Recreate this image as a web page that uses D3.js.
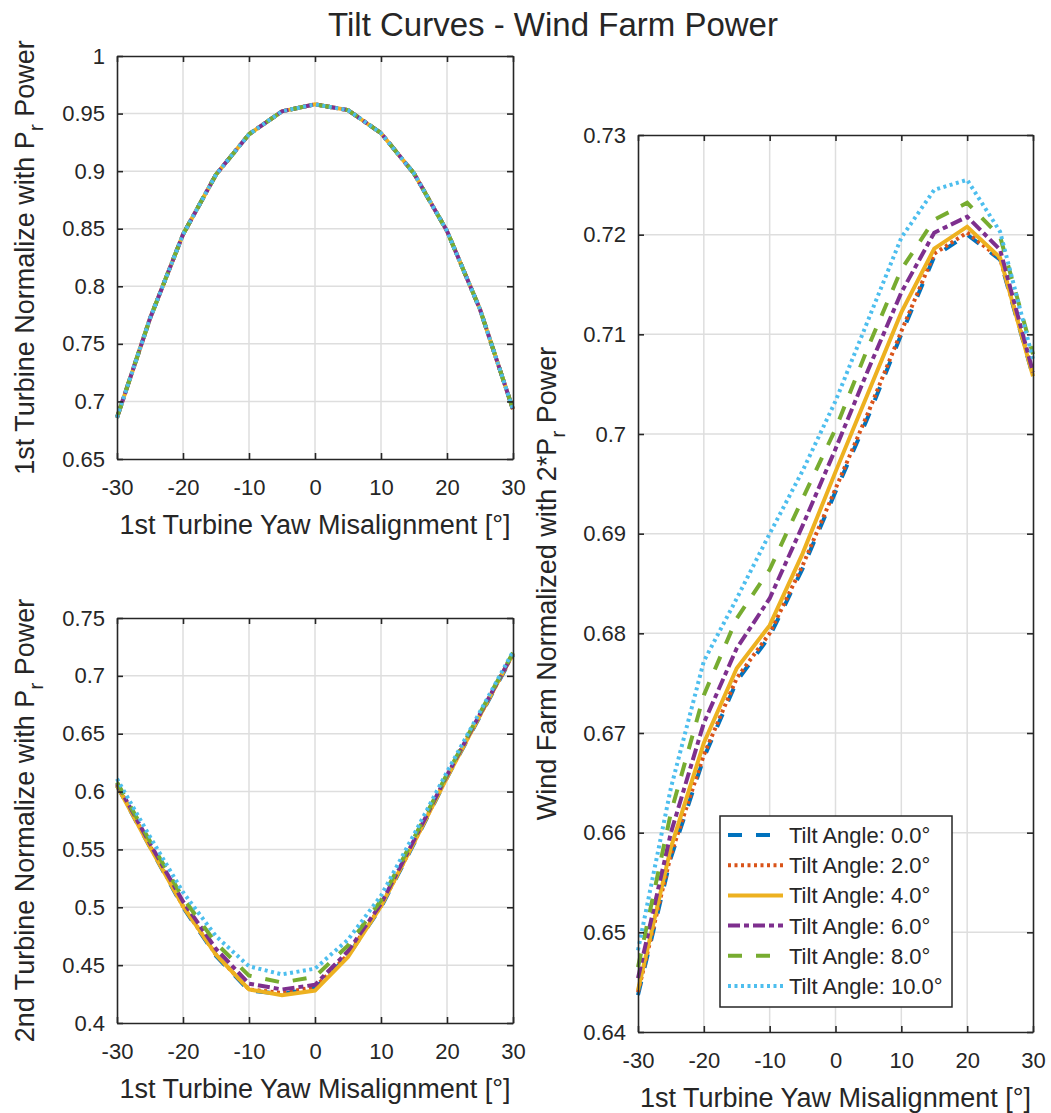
<!DOCTYPE html>
<html>
<head>
<meta charset="utf-8">
<script src="https://cdn.jsdelivr.net/npm/d3@7"></script>
<style>
  body { margin: 0; background: #fff; }
  text { font-family: "Liberation Sans", Arial, Helvetica, sans-serif; fill: #262626; }
</style>
</head>
<body>
<svg id="fig" width="1051" height="1113"></svg>
<script>
// yaw misalignment of the 1st turbine (deg)
const yaw = [-30, -25, -20, -15, -10, -5, 0, 5, 10, 15, 20, 25, 30];
const xTicks = [-30, -20, -10, 0, 10, 20, 30];

const tiltNames = ["Tilt Angle: 0.0°", "Tilt Angle: 2.0°", "Tilt Angle: 4.0°",
                   "Tilt Angle: 6.0°", "Tilt Angle: 8.0°", "Tilt Angle: 10.0°"];

// 1st turbine power -- the six tilt curves lie on top of each other
const turbine1 = [0.686, 0.772, 0.845, 0.897, 0.932, 0.952, 0.958, 0.953, 0.933, 0.898, 0.848, 0.780, 0.693];

// 2nd turbine power, one per tilt angle
const turbine2Tilt0  = [0.605, 0.552, 0.500, 0.458, 0.428, 0.425, 0.430, 0.458, 0.500, 0.555, 0.612, 0.665, 0.718];
const turbine2Tilt2  = [0.606, 0.553, 0.501, 0.459, 0.429, 0.426, 0.431, 0.459, 0.501, 0.556, 0.613, 0.666, 0.719];
const turbine2Tilt4  = [0.605, 0.552, 0.501, 0.459, 0.429, 0.424, 0.428, 0.457, 0.501, 0.556, 0.612, 0.666, 0.719];
const turbine2Tilt6  = [0.607, 0.555, 0.505, 0.464, 0.434, 0.429, 0.433, 0.462, 0.503, 0.558, 0.614, 0.667, 0.719];
const turbine2Tilt8  = [0.608, 0.557, 0.508, 0.469, 0.441, 0.435, 0.440, 0.467, 0.506, 0.560, 0.615, 0.668, 0.720];
const turbine2Tilt10 = [0.611, 0.561, 0.513, 0.475, 0.449, 0.442, 0.447, 0.472, 0.510, 0.563, 0.617, 0.669, 0.721];

// wind farm power, one per tilt angle
const farmTilt0  = [0.6437, 0.6575, 0.6675, 0.6752, 0.6797, 0.6865, 0.6942, 0.7018, 0.7100, 0.7178, 0.7200, 0.7175, 0.7058];
const farmTilt2  = [0.6440, 0.6578, 0.6678, 0.6755, 0.6800, 0.6868, 0.6945, 0.7022, 0.7103, 0.7181, 0.7202, 0.7176, 0.7060];
const farmTilt4  = [0.6442, 0.6585, 0.6690, 0.6765, 0.6808, 0.6880, 0.6962, 0.7042, 0.7122, 0.7186, 0.7208, 0.7177, 0.7058];
const farmTilt6  = [0.6454, 0.6600, 0.6710, 0.6785, 0.6835, 0.6908, 0.6985, 0.7065, 0.7142, 0.7202, 0.7218, 0.7185, 0.7062];
const farmTilt8  = [0.6465, 0.6620, 0.6738, 0.6815, 0.6864, 0.6935, 0.7005, 0.7088, 0.7165, 0.7215, 0.7232, 0.7198, 0.7080];
const farmTilt10 = [0.6482, 0.6645, 0.6772, 0.6835, 0.6900, 0.6963, 0.7033, 0.7115, 0.7197, 0.7245, 0.7255, 0.7203, 0.7075];

const yTicks1 = [0.65, 0.7, 0.75, 0.8, 0.85, 0.9, 0.95, 1];
const yTicks2 = [0.4, 0.45, 0.5, 0.55, 0.6, 0.65, 0.7, 0.75];
const yTicks3 = [0.64, 0.65, 0.66, 0.67, 0.68, 0.69, 0.7, 0.71, 0.72, 0.73];

// matlab default line colours and styles
const colors = ["#0072BD", "#D95319", "#EDB120", "#7E2F8E", "#77AC30", "#4DBEEE"];
const dashes = ["14,14", "3,3.5", null, "12,4,5,4", "14,14", "3,3.5"];

const svg = d3.select("#fig");
const FONT = "'Liberation Sans', Arial, Helvetica, sans-serif";
const INK = "#262626";

svg.append("text")
    .attr("x", 553).attr("y", 36)
    .attr("text-anchor", "middle")
    .attr("font-size", 33)
    .text("Tilt Curves - Wind Farm Power");

function drawPanel(box, yDomain, yTicks, series, yLabel, yLabelX) {
    const g = svg.append("g");
    const x = d3.scaleLinear().domain([-30, 30]).range([box.left, box.right]);
    const y = d3.scaleLinear().domain(yDomain).range([box.bottom, box.top]);
    const fmt = d => String(+d.toFixed(2));

    // grid
    g.selectAll("line.vgrid").data(xTicks.slice(1, -1)).join("line")
        .attr("x1", d => x(d)).attr("x2", d => x(d))
        .attr("y1", box.top).attr("y2", box.bottom)
        .attr("stroke", "#dedede").attr("stroke-width", 1.5);
    g.selectAll("line.hgrid").data(yTicks.slice(1, -1)).join("line")
        .attr("y1", d => y(d)).attr("y2", d => y(d))
        .attr("x1", box.left).attr("x2", box.right)
        .attr("stroke", "#dedede").attr("stroke-width", 1.5);

    // curves
    const line = d3.line().x(d => x(d[0])).y(d => y(d[1]));
    series.forEach((vals, i) => {
        g.append("path")
            .datum(d3.zip(yaw, vals))
            .attr("fill", "none")
            .attr("stroke", colors[i])
            .attr("stroke-width", 4)
            .attr("stroke-dasharray", dashes[i])
            .attr("d", line);
    });

    // axes (ticks inward, box on)
    const styleAxis = sel => {
        sel.attr("font-size", 22).attr("font-family", FONT);
        sel.select(".domain").attr("stroke", INK).attr("stroke-width", 1.6);
        sel.selectAll(".tick line").attr("stroke", INK).attr("stroke-width", 1.6);
        sel.selectAll(".tick text").attr("fill", INK);
    };
    g.append("g").attr("transform", `translate(0,${box.bottom})`)
        .call(d3.axisBottom(x).tickValues(xTicks).tickSize(-6).tickSizeOuter(0).tickPadding(20).tickFormat(String))
        .call(styleAxis);
    g.append("g").attr("transform", `translate(0,${box.top})`)
        .call(d3.axisTop(x).tickValues(xTicks).tickSize(-6).tickSizeOuter(0).tickFormat(""))
        .call(styleAxis);
    g.append("g").attr("transform", `translate(${box.left},0)`)
        .call(d3.axisLeft(y).tickValues(yTicks).tickSize(-6).tickSizeOuter(0).tickPadding(12).tickFormat(fmt))
        .call(styleAxis);
    g.append("g").attr("transform", `translate(${box.right},0)`)
        .call(d3.axisRight(y).tickValues(yTicks).tickSize(-6).tickSizeOuter(0).tickFormat(""))
        .call(styleAxis);

    // x label
    g.append("text")
        .attr("x", (box.left + box.right) / 2)
        .attr("y", box.bottom + 75)
        .attr("text-anchor", "middle")
        .attr("font-size", 27)
        .text("1st Turbine Yaw Misalignment [°]");

    // y label with subscript r
    const cy = (box.top + box.bottom) / 2;
    const t = g.append("text")
        .attr("transform", `translate(${yLabelX},${cy}) rotate(-90)`)
        .attr("text-anchor", "middle")
        .attr("font-size", 27);
    t.append("tspan").text(yLabel[0]);
    t.append("tspan").attr("dy", 9).attr("font-size", 21).text("r");
    t.append("tspan").attr("dy", -9).text(yLabel[1]);

    return { x, y };
}

drawPanel({ left: 117, right: 513, top: 56, bottom: 459 }, [0.65, 1], yTicks1,
    [turbine1, turbine1, turbine1, turbine1, turbine1, turbine1],
    ["1st Turbine Normalize with P", " Power"], 34);

drawPanel({ left: 117, right: 513, top: 618, bottom: 1023 }, [0.4, 0.75], yTicks2,
    [turbine2Tilt0, turbine2Tilt2, turbine2Tilt4, turbine2Tilt6, turbine2Tilt8, turbine2Tilt10],
    ["2nd Turbine Normalize with P", " Power"], 34);

drawPanel({ left: 638, right: 1033, top: 135, bottom: 1032 }, [0.64, 0.73], yTicks3,
    [farmTilt0, farmTilt2, farmTilt4, farmTilt6, farmTilt8, farmTilt10],
    ["Wind Farm Normalized with 2*P", " Power"], 556);

// legend
const leg = svg.append("g").attr("transform", "translate(720,816)");
leg.append("rect")
    .attr("width", 232).attr("height", 191)
    .attr("fill", "#fff").attr("stroke", INK).attr("stroke-width", 1.5);
tiltNames.forEach((name, i) => {
    const cy = 19 + i * 30.2;
    leg.append("line")
        .attr("x1", 8).attr("x2", 63).attr("y1", cy).attr("y2", cy)
        .attr("stroke", colors[i]).attr("stroke-width", 4)
        .attr("stroke-dasharray", dashes[i]);
    leg.append("text")
        .attr("x", 69).attr("y", cy + 8)
        .attr("font-size", 22)
        .text(name);
});
</script>
</body>
</html>
